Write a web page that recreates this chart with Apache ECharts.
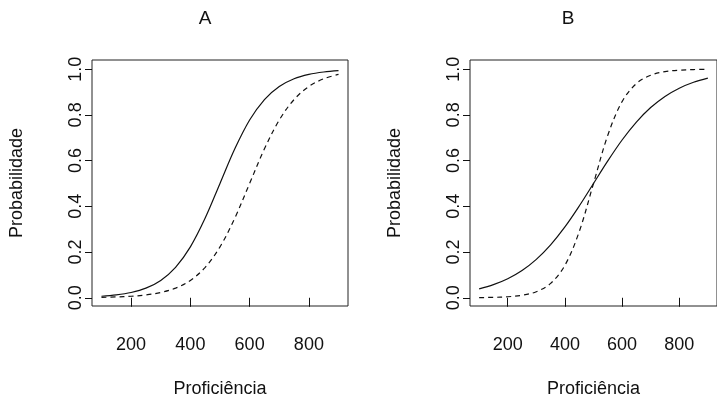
<!DOCTYPE html>
<html>
<head>
<meta charset="utf-8">
<script src="https://cdn.jsdelivr.net/npm/echarts@6/dist/echarts.min.js"></script>
<style>
html,body{margin:0;padding:0;background:#fff;overflow:hidden;}
#chart{width:717px;height:403px;}
</style>
</head>
<body>
<div id="chart"></div>
<script>
// Proficiência values (x)
var proficiencia = [100,150,200,250,300,350,400,450,500,550,600,650,700,750,800,850,900];
// Panel A
var solidA  = [0.0067,0.0124,0.0230,0.0421,0.0759,0.1330,0.2227,0.3487,0.5000,0.6513,0.7773,0.8670,0.9241,0.9579,0.9770,0.9876,0.9933];
var dashedA = [0.0019,0.0036,0.0067,0.0124,0.0230,0.0421,0.0759,0.1330,0.2227,0.3487,0.5000,0.6513,0.7773,0.8670,0.9241,0.9579,0.9770];
// Panel B
var solidB  = [0.0392,0.0573,0.0832,0.1192,0.1680,0.2315,0.3100,0.4013,0.5000,0.5987,0.6900,0.7685,0.8320,0.8808,0.9168,0.9427,0.9608];
var dashedB = [0.0008,0.0018,0.0045,0.0110,0.0266,0.0630,0.1419,0.2891,0.5000,0.7109,0.8581,0.9370,0.9734,0.9890,0.9955,0.9982,0.9993];
// Tick labels
var xTicks = [200,400,600,800];
var yTicks = [0,0.2,0.4,0.6,0.8,1.0];
var titles = ['A','B'];
var xName = 'Proficiência';
var yName = 'Probabilidade';

function pairs(ys){ return proficiencia.map(function(x,i){ return [x, ys[i]]; }); }

var FONT = 'Liberation Sans, Arial, sans-serif';
var chart = echarts.init(document.getElementById('chart'));

function xAxis(gi){
  return {
    type:'value', gridIndex:gi, min:68, max:932,
    axisLine:{show:false},
    axisTick:{show:true, inside:false, length:9, lineStyle:{color:'#111', width:1}, customValues:xTicks},
    axisLabel:{show:true, margin:30, color:'#111', fontSize:18, fontFamily:FONT, customValues:xTicks},
    splitLine:{show:false},
    name:xName, nameLocation:'middle', nameGap:74,
    nameTextStyle:{color:'#111', fontSize:18, fontFamily:FONT}
  };
}
function yAxis(gi){
  return {
    type:'value', gridIndex:gi, min:-0.036, max:1.04,
    axisLine:{show:false},
    axisTick:{show:true, inside:false, length:7, lineStyle:{color:'#111', width:1}, customValues:yTicks},
    axisLabel:{show:true, rotate:90, margin:7, color:'#111', fontSize:18, fontFamily:FONT, customValues:yTicks,
      formatter:function(v){ return v.toFixed(1); }},
    splitLine:{show:false},
    name:yName, nameLocation:'middle', nameGap:66,
    nameTextStyle:{color:'#111', fontSize:18, fontFamily:FONT}
  };
}
function line(gi, ys, dashed){
  return {
    type:'line', xAxisIndex:gi, yAxisIndex:gi, data:pairs(ys),
    smooth:0.35, showSymbol:false, symbol:'none',
    lineStyle:{color:'#111', width:1.2, type: dashed ? [5,4] : 'solid'},
    silent:true, animation:false
  };
}

chart.setOption({
  backgroundColor:'#fff',
  animation:false,
  grid:[
    {left:92, top:60, width:256, height:253, show:true, borderColor:'#222', borderWidth:1, backgroundColor:'transparent'},
    {left:470, top:60, width:256, height:254, show:true, borderColor:'#222', borderWidth:1, backgroundColor:'transparent'}
  ],
  xAxis:[xAxis(0), xAxis(1)],
  yAxis:[yAxis(0), yAxis(1)],
  series:[
    line(0, solidA, false), line(0, dashedA, true),
    line(1, solidB, false), line(1, dashedB, true)
  ],
  graphic:[
    {type:'text', x:205, y:19, style:{text:titles[0], fill:'#111', font:'19px ' + FONT, textAlign:'center', textVerticalAlign:'middle'}},
    {type:'text', x:568, y:19, style:{text:titles[1], fill:'#111', font:'19px ' + FONT, textAlign:'center', textVerticalAlign:'middle'}}
  ]
});
</script>
</body>
</html>
